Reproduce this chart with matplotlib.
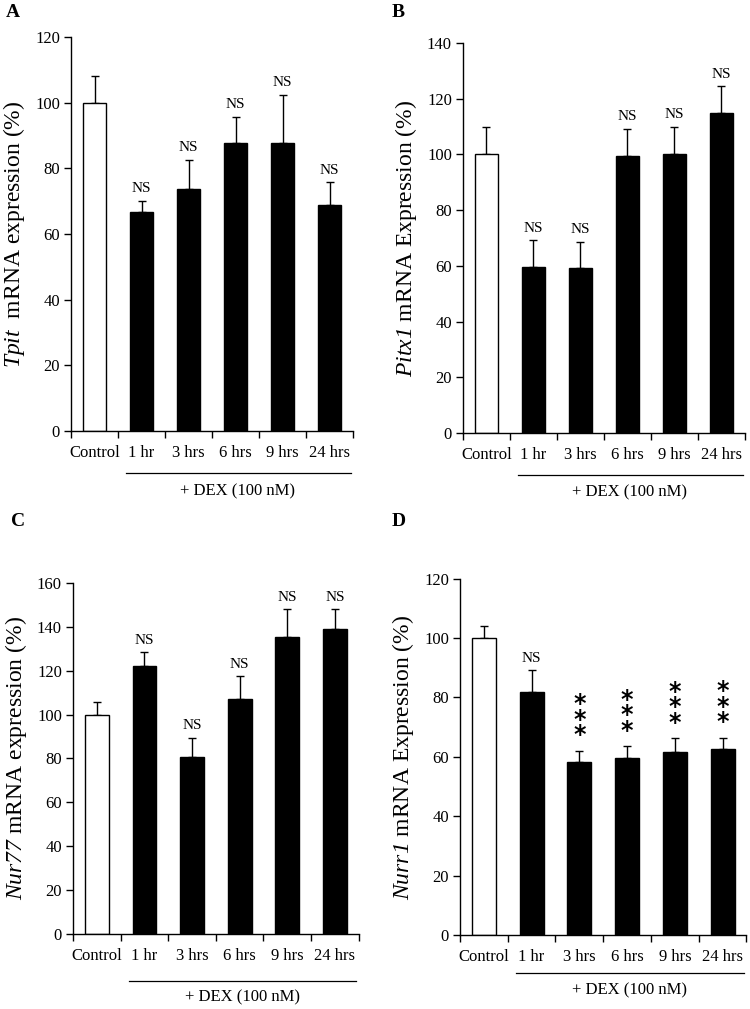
import matplotlib
matplotlib.use("Agg")
import matplotlib.pyplot as plt
import matplotlib.transforms as mtransforms

plt.rcParams["font.family"] = ["Liberation Serif", "DejaVu Serif"]
plt.rcParams["mathtext.fontset"] = "custom"
plt.rcParams["mathtext.rm"] = "Liberation Serif"
# \mathcal is used for the italic gene names so the digits stay italic too
plt.rcParams["mathtext.cal"] = "Liberation Serif:italic"

groups = ["Control", "1 hr", "3 hrs", "6 hrs", "9 hrs", "24 hrs"]

# panel A - Tpit
tpit_mean = [100, 66.7, 73.7, 87.7, 87.7, 68.7]
tpit_err = [8.1, 3.3, 8.8, 7.9, 14.7, 7.0]
tpit_sig = ["", "NS", "NS", "NS", "NS", "NS"]

# panel B - Pitx1
pitx1_mean = [100, 59.5, 59.1, 99.3, 100, 114.8]
pitx1_err = [9.8, 9.6, 9.4, 9.8, 9.8, 9.6]
pitx1_sig = ["", "NS", "NS", "NS", "NS", "NS"]

# panel C - Nur77
nur77_mean = [100, 122.0, 80.5, 107.1, 135.3, 139.1]
nur77_err = [5.6, 6.6, 9.0, 10.5, 12.9, 9.1]
nur77_sig = ["", "NS", "NS", "NS", "NS", "NS"]

# panel D - Nurr1
nurr1_mean = [100, 81.8, 58.4, 59.7, 61.8, 62.6]
nurr1_err = [4.2, 7.3, 3.7, 3.9, 4.5, 3.9]
nurr1_sig = ["", "NS", "***", "***", "***", "***"]

panels = [
    # letter, ylabel, means, errs, sig, ymax, axes rect, letter pos
    ("A", r"$\mathcal{Tpit}$  mRNA expression (%)", tpit_mean, tpit_err, tpit_sig,
     120, [0.0947, 0.5728, 0.376, 0.3905], (0.008, 0.996)),
    ("B", r"$\mathcal{Pitx1}$ mRNA Expression (%)", pitx1_mean, pitx1_err, pitx1_sig,
     140, [0.6173, 0.5709, 0.376, 0.3865], (0.522, 0.996)),
    ("C", r"$\mathcal{Nur77}$ mRNA expression (%)", nur77_mean, nur77_err, nur77_sig,
     160, [0.0973, 0.0743, 0.381, 0.348], (0.014, 0.492)),
    ("D", r"$\mathcal{Nurr1}$ mRNA Expression (%)", nurr1_mean, nurr1_err, nurr1_sig,
     120, [0.6133, 0.0734, 0.382, 0.353], (0.522, 0.492)),
]

fig = plt.figure(figsize=(7.5, 10.09), dpi=100)
fig.patch.set_facecolor("white")

for letter, ylabel, means, errs, sig, ymax, rect, lpos in panels:
    ax = fig.add_axes(rect)
    x = list(range(len(groups)))
    colors = ["white"] + ["black"] * (len(groups) - 1)
    ax.bar(x, means, width=0.5, color=colors, edgecolor="black", linewidth=1.0, zorder=2)
    ax.errorbar(x, means, yerr=[[0] * len(errs), errs], fmt="none",
                ecolor="black", elinewidth=1.0, capsize=3, capthick=1.0, zorder=1)

    for xi, m, e, s in zip(x, means, errs, sig):
        if s == "NS":
            ax.text(xi, m + e + ymax * 0.015, s, ha="center", va="bottom", fontsize=11)
        elif s == "***":
            ax.text(xi, m + e + ymax * 0.01, "*\n*\n*", ha="center", va="bottom",
                    fontsize=17, fontweight="bold", family="DejaVu Sans",
                    linespacing=0.55)

    ax.set_xlim(-0.5, len(groups) - 0.5)
    ax.set_ylim(0, ymax)
    ax.set_yticks(range(0, ymax + 1, 20))
    ax.set_xticks([i - 0.5 for i in range(len(groups) + 1)])
    ax.set_xticklabels([])
    ax.set_xticks(x, minor=True)
    ax.set_xticklabels(groups, minor=True)
    ax.tick_params(axis="x", which="major", direction="out", length=5, width=1)
    ax.tick_params(axis="x", which="minor", length=0, pad=10, labelsize=12)
    ax.tick_params(axis="y", direction="out", length=5, width=1, labelsize=12, pad=3)
    for sp in ["top", "right"]:
        ax.spines[sp].set_visible(False)
    for sp in ["left", "bottom"]:
        ax.spines[sp].set_linewidth(1.0)
    ax.set_ylabel(ylabel, fontsize=17, labelpad=6)

    # + DEX bracket line under the treated groups
    trans = mtransforms.blended_transform_factory(ax.transData, ax.transAxes)
    line_y = -0.107 if ymax != 160 else -0.134
    ax.plot([0.68, 5.45], [line_y, line_y], color="black", lw=0.9,
            transform=trans, clip_on=False)
    ax.text(3.05, line_y - 0.025, "+ DEX (100 nM)", transform=trans,
            ha="center", va="top", fontsize=12)

    fig.text(lpos[0], lpos[1], letter, fontsize=14, fontweight="bold",
             ha="left", va="top")

fig.savefig("out.png", dpi=100, facecolor="white")
